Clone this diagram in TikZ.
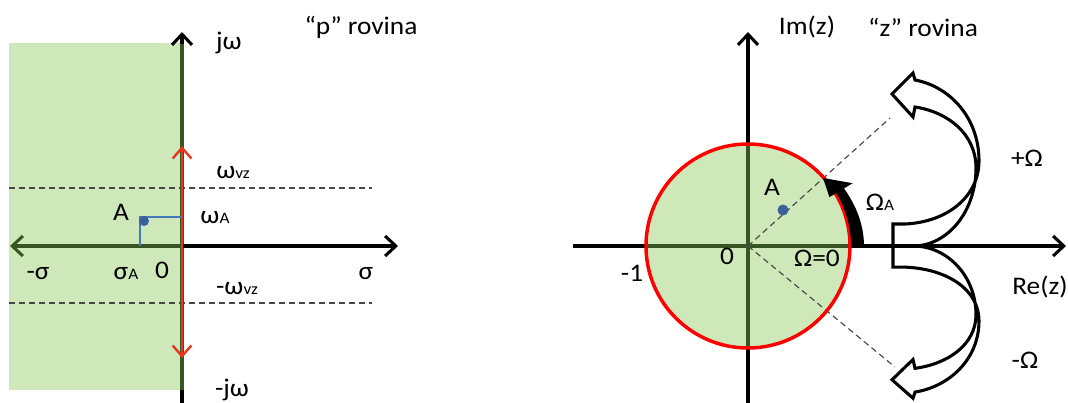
\documentclass[tikz,border=0pt]{standalone}
\usepackage{fontspec}
\setmainfont{Carlito}[FakeStretch=1.08]
\usetikzlibrary{arrows.meta}
\definecolor{pgreen}{RGB}{207,232,185}
\definecolor{dgreen}{RGB}{55,86,35}
\definecolor{lred}{RGB}{232,55,30}
\definecolor{ptblue}{RGB}{58,95,155}
\definecolor{lnblue}{RGB}{70,120,190}
\definecolor{dgray}{RGB}{70,70,70}
\newcommand{\smalltxt}[1]{{\fontsize{12}{14}\selectfont #1}}
\begin{document}
\begin{tikzpicture}[x=0.75pt,y=-0.75pt,
  axisline/.style={line width=2.3pt, -{Straight Barb[length=8pt,width=15pt]}},
  lbl/.style={font=\fontsize{19}{22}\selectfont, inner sep=0pt},
  dashline/.style={dgray, line width=0.85pt, dash pattern=on 4.5pt off 3pt},
  hollow/.style={line width=2.3pt, fill=white, line join=miter}
]
\useasboundingbox (0,0) rectangle (1068,403);

% ---------------- left panel: p plane
\fill[pgreen] (9,43) rectangle (182,390);
\coordinate (pO) at (182,246);
\coordinate (pTop) at (182,32);
\coordinate (pBot) at (182,403);
\coordinate (pL) at (10,246);
\coordinate (pR) at (398,246);
\coordinate (d1a) at (9,188);
\coordinate (d1b) at (372,188);
\coordinate (d2a) at (9,303);
\coordinate (d2b) at (372,303);
\draw[dashline] (d1a) -- (d1b);
\draw[dashline] (d2a) -- (d2b);
\draw[axisline] (pBot) -- (pTop);
\draw[line width=2.3pt, dgreen] (182,390) -- (182,44);
\draw[axisline] (pO) -- (pR);
\draw[axisline, dgreen] (pO) -- (pL);
\coordinate (rTop) at (182,146);
\coordinate (rBot) at (182,358);
\draw[lred, line width=1.8pt, {Straight Barb[length=8pt,width=14pt]}-{Straight Barb[length=8pt,width=14pt]}] (rBot) -- (rTop);
\coordinate (bA) at (140,246);
\coordinate (bB) at (140,217);
\coordinate (bC) at (182,217);
\draw[lnblue, line width=0.9pt] (bA) -- (bB) -- (bC);
\fill[ptblue] (144,221) circle[radius=5];

\node[lbl] (jw) at (229,43) {jω};
\node[lbl] (prov) at (361,27) {“p” rovina};
\node[lbl] (wvz) at (233,173) {ω\smalltxt{vz}};
\node[lbl] (wA) at (215,218) {ω\smalltxt{A}};
\node[lbl] (pAl) at (121,212) {A};
\node[lbl] (msig) at (38,274) {-σ};
\node[lbl] (sigA) at (126,274) {σ\smalltxt{A}};
\node[lbl] (p0) at (162,270) {0};
\node[lbl] (sig) at (366,274) {σ};
\node[lbl] (mwvz) at (237,289) {-ω\smalltxt{vz}};
\node[lbl] (mjw) at (232,390) {-jω};

% ---------------- right panel: z plane
\coordinate (zO) at (748,246);
\fill[pgreen] (zO) circle[radius=102];
\coordinate (zL) at (573,246);
\coordinate (zR) at (1066,246);
\coordinate (zTop) at (748,32);
\coordinate (zBot) at (748,403);
\draw[axisline] (zL) -- (zR);
\draw[axisline] (zBot) -- (zTop);
\draw[line width=2.3pt, dgreen] (646,246) -- (850,246);
\draw[line width=2.3pt, dgreen] (748,144) -- (748,348);
\coordinate (dU) at (890,118);
\coordinate (dD) at (895,367);
\draw[dashline] (zO) -- (dU);
\draw[dashline] (zO) -- (dD);
\draw[red, line width=2.6pt] (zO) circle[radius=102];
\fill[ptblue] (783,210) circle[radius=5.5];

% Omega_A arrow
\fill[black] (850,246) -- (864,246) .. controls (864,225) and (856,205) .. (844,188.5)
  -- (852.6,183.2) -- (823,178) -- (829.4,197.1) -- (836.3,193)
  arc[start angle=-31, end angle=0, radius=103] -- cycle;

% hollow curved arrows
\begin{scope}[shift={(893,246)}]
\draw[hollow] (0,0) -- (0,-22) -- (12,-22) .. controls (55,-24) and (86,-50) .. (86,-85)
  .. controls (86,-130) and (55,-160) .. (22,-166) -- (20,-173) -- (-1,-152) -- (20,-129) -- (22,-139)
  .. controls (55,-134) and (83,-112) .. (83,-78) .. controls (83,-35) and (55,0) .. (20,0) -- cycle;
\end{scope}
\begin{scope}[shift={(893,246)}, yscale=-0.88]
\draw[hollow] (0,0) -- (0,-24) -- (12,-24) .. controls (55,-26) and (86,-50) .. (86,-85)
  .. controls (86,-130) and (55,-160) .. (22,-166) -- (20,-173) -- (-1,-152) -- (20,-129) -- (22,-139)
  .. controls (55,-134) and (83,-112) .. (83,-78) .. controls (83,-35) and (55,0) .. (20,0) -- cycle;
\end{scope}
\draw[line width=2.3pt] (885,246) -- (940,246);

\node[lbl] (imz) at (807,27) {Im(z)};
\node[lbl] (zrov) at (923,27) {“z” rovina};
\node[lbl] (zAl) at (772,187) {A};
\node[lbl] (z0) at (727,256) {0};
\node[lbl] (om0) at (817,258) {Ω=0};
\node[lbl] (m1) at (632,273) {-1};
\node[lbl] (omA) at (880,202) {Ω\smalltxt{A}};
\node[lbl] (pom) at (1027,158) {+Ω};
\node[lbl] (rez) at (1040,287) {Re(z)};
\node[lbl] (mom) at (1025,360) {-Ω};
\end{tikzpicture}
\end{document}
